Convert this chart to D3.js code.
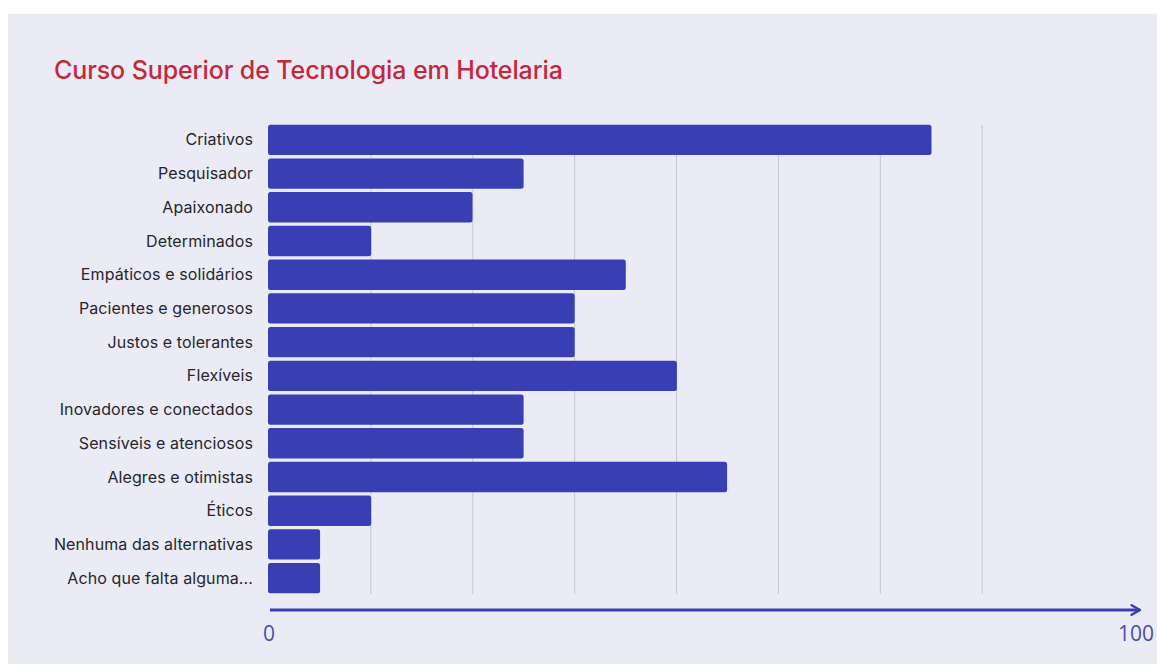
<!DOCTYPE html>
<html>
<head>
<meta charset="utf-8">
<script src="https://cdn.jsdelivr.net/npm/d3@7"></script>
<style>
  html, body { margin: 0; padding: 0; background: #ffffff; }
  svg { display: block; }
</style>
</head>
<body>
<svg id="chart" width="1157" height="664"></svg>
<script>
// Share of respondents choosing each trait (%)
const categories = [
  "Criativos",
  "Pesquisador",
  "Apaixonado",
  "Determinados",
  "Empáticos e solidários",
  "Pacientes e generosos",
  "Justos e tolerantes",
  "Flexíveis",
  "Inovadores e conectados",
  "Sensíveis e atenciosos",
  "Alegres e otimistas",
  "Éticos",
  "Nenhuma das alternativas",
  "Acho que falta alguma..."
];
const values = [76.5, 29.4, 23.5, 11.8, 41.2, 35.3, 35.3, 47.1, 29.4, 29.4, 52.9, 11.8, 5.9, 5.9];
const gridTicks = [11.76, 23.53, 35.29, 47.06, 58.82, 70.59, 82.35];
const axisLabels = [0, 100];
const title = "Curso Superior de Tecnologia em Hotelaria";

const svg = d3.select("#chart");

// background panel
svg.append("rect")
  .attr("x", 8).attr("y", 14)
  .attr("width", 1149).attr("height", 650)
  .attr("fill", "#ebebf5");

svg.append("text")
  .attr("x", 54).attr("y", 79)
  .attr("fill", "#c4283c")
  .attr("font-family", "Inter, 'Noto Sans', sans-serif")
  .attr("font-size", 25)
  .attr("font-weight", 500)
  .attr("letter-spacing", -0.1)
  .text(title);

const x = d3.scaleLinear().domain([0, 100]).range([269, 1135]);
const y = d3.scaleBand().domain(categories).range([123, 595])
  .paddingInner(0.1).paddingOuter(0.05);

// vertical gridlines
svg.append("g").selectAll("line").data(gridTicks).join("line")
  .attr("x1", d => x(d)).attr("x2", d => x(d))
  .attr("y1", 125).attr("y2", 594)
  .attr("stroke", "#c6c6d0").attr("stroke-width", 1);

// bars
svg.append("g").selectAll("rect").data(values).join("rect")
  .attr("x", x(0) - 1)
  .attr("y", (d, i) => y(categories[i]))
  .attr("width", d => x(d) - x(0) + 1)
  .attr("height", y.bandwidth())
  .attr("rx", 2.5)
  .attr("fill", "#3a3eb4");

// category labels
svg.append("g").selectAll("text").data(categories).join("text")
  .attr("x", 253)
  .attr("y", d => y(d) + y.bandwidth() / 2)
  .attr("dy", "0.35em")
  .attr("text-anchor", "end")
  .attr("fill", "#26262c")
  .attr("font-family", "Inter, 'Noto Sans', sans-serif")
  .attr("font-size", 16)
  .attr("letter-spacing", 0.1)
  .text(d => d);

// axis with arrow
svg.append("defs").append("marker")
  .attr("id", "arrow")
  .attr("viewBox", "0 0 10 10")
  .attr("refX", 8).attr("refY", 5)
  .attr("markerWidth", 4).attr("markerHeight", 4)
  .attr("orient", "auto")
  .append("path")
  .attr("d", "M1,1 L8,5 L1,9")
  .attr("fill", "none")
  .attr("stroke", "#3a3eb4")
  .attr("stroke-width", 2)
  .attr("stroke-linecap", "round")
  .attr("stroke-linejoin", "round");

svg.append("line")
  .attr("x1", x(0) + 1).attr("x2", 1140)
  .attr("y1", 610).attr("y2", 610)
  .attr("stroke", "#3a3eb4").attr("stroke-width", 3)
  .attr("marker-end", "url(#arrow)");

svg.append("g").selectAll("text").data(axisLabels).join("text")
  .attr("x", d => d === 100 ? x(d) + 1 : x(d))
  .attr("y", 641)
  .attr("text-anchor", "middle")
  .attr("fill", "#4a4ea8")
  .attr("font-family", "'Open Sans', 'Noto Sans', sans-serif")
  .attr("font-size", 21)
  .text(d => d);
</script>
</body>
</html>
